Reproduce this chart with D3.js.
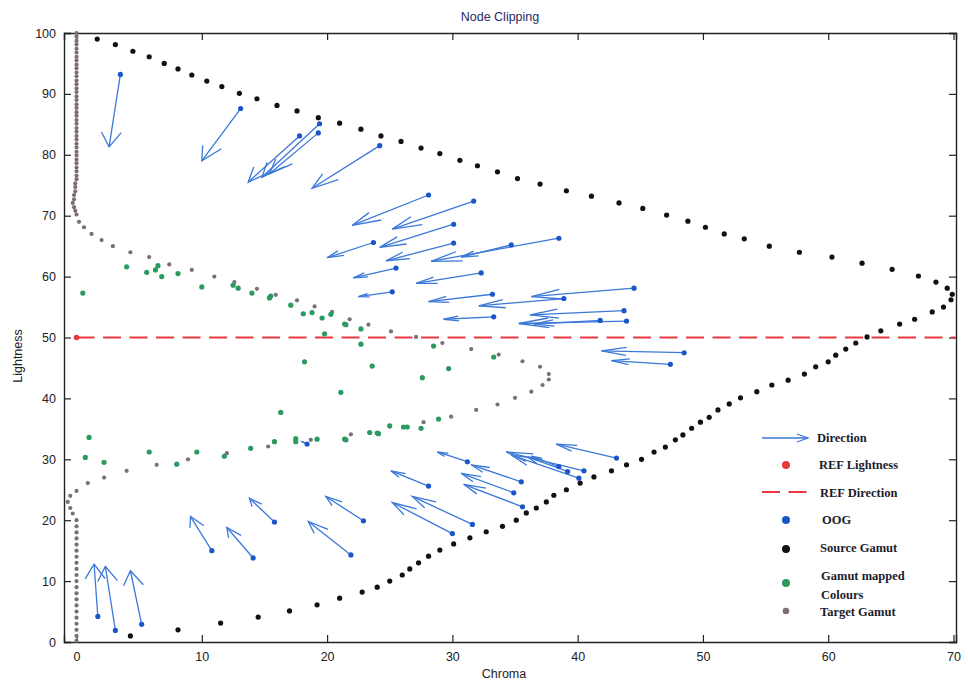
<!DOCTYPE html>
<html>
<head>
<meta charset="utf-8">
<script src="https://d3js.org/d3.v7.min.js"></script>
<style>
  body { margin: 0; background: #fff; }
  svg text { font-family: "Liberation Sans", Arial, sans-serif; }
  .leg { font-family: "Liberation Serif", "Times New Roman", serif; font-weight: bold; font-size: 12.5px; fill: #1c1c2c; }
</style>
</head>
<body>
<div id="chart"></div>
<script>
// ---- data ----
var xTicks = [0, 10, 20, 30, 40, 50, 60, 70];
var yTicks = [0, 10, 20, 30, 40, 50, 60, 70, 80, 90, 100];
var refL = 50;

// source gamut boundary
var srcC = [1.65, 3.1, 4.5, 5.8, 7.0, 8.1, 9.2, 10.4, 11.6, 13.0, 14.4, 16.0, 17.6, 19.3, 21.0, 22.7, 24.3, 25.9, 27.5, 29.0,
  30.6, 32.0, 33.6, 35.2, 37.0, 39.1, 41.1, 43.3, 45.2, 47.1, 48.8, 50.2, 51.7, 53.3, 55.3, 57.7, 60.3, 62.7, 65.1, 67.2,
  68.6, 69.5, 69.9, 69.8, 69.2, 68.3, 66.9, 65.7, 64.2, 63.1, 62.2, 61.4, 60.6, 60.0, 59.0, 58.1, 56.8, 55.5, 54.3, 53.0,
  52.1, 51.2, 50.5, 49.8, 49.1, 48.4, 47.8, 47.0, 46.1, 45.1, 43.9, 42.7, 41.3, 40.2, 39.1, 38.1, 37.5, 36.7, 35.9, 35.1,
  34.0, 32.7, 31.4, 30.1, 29.0, 28.1, 27.3, 26.6, 26.0, 25.0, 24.0, 22.8, 21.0, 19.2, 17.0, 14.5, 11.5, 8.1, 4.3];
var srcL = [99.0, 98.1, 97.0, 96.1, 95.0, 94.1, 93.1, 92.1, 91.2, 90.1, 89.2, 88.1, 87.2, 86.1, 85.2, 84.2, 83.1, 82.2, 81.1, 80.2,
  79.1, 78.2, 77.2, 76.1, 75.2, 74.1, 73.2, 72.1, 71.2, 70.1, 69.1, 68.1, 67.0, 66.2, 65.0, 64.0, 63.2, 62.2, 61.2, 60.1,
  59.1, 58.1, 57.1, 56.2, 55.0, 54.2, 53.0, 52.2, 51.1, 50.1, 49.1, 48.1, 47.1, 46.0, 45.2, 44.0, 43.0, 42.2, 41.1, 40.1,
  39.1, 38.1, 36.9, 36.1, 35.1, 34.0, 33.2, 32.0, 31.2, 30.0, 29.1, 28.1, 27.1, 26.1, 25.0, 24.1, 23.0, 22.0, 21.2, 20.0,
  19.0, 18.1, 17.1, 16.1, 15.1, 14.1, 13.0, 12.0, 11.0, 10.0, 9.0, 8.2, 7.2, 6.1, 5.1, 4.1, 3.1, 2.0, 1.0];

// target gamut boundary
var tgtC = [0, 0, 0, 0, 0, 0, 0, 0, 0, 0, 0, 0, 0, 0, 0, 0, 0, 0, 0, 0, 0, 0, 0, 0,
  0, 0, 0, 0, 0, 0, 0, 0, 0, 0, 0, 0, 0, 0, -0.1, -0.1, -0.1, -0.2, -0.2, -0.3, -0.2, -0.1, 0,
  0.2, 0.6, 1.2, 2.0, 2.9, 4.3, 5.8, 7.4, 9.2, 11.0, 12.6, 14.4, 15.9, 17.6, 19.0, 20.4, 21.8, 23.3,
  25.1, 27.1, 29.2, 31.5, 33.7, 35.6, 37.0, 37.7, 37.7, 37.2, 36.3, 35.0, 33.6, 31.9, 29.9, 27.7, 25.0,
  21.9, 18.7, 15.3, 12.0, 8.9, 6.4, 4.0, 2.2, 0.9, 0.0, -0.5, -0.7, -0.5, -0.3,
  0, 0, 0, 0, 0, 0, 0, 0, 0, 0, 0, 0, 0, 0, 0, 0, 0, 0, 0, 0, 0];
var tgtL = [100, 99.4, 98.7, 98.1, 97.4, 96.8, 96.1, 95.5, 94.8, 94.2, 93.5, 92.9, 92.2, 91.6, 90.9, 90.3, 89.6, 89, 88.3, 87.7, 87, 86.4, 85.7, 85.1,
  84.4, 83.8, 83.1, 82.5, 81.8, 81.2, 80.5, 79.9, 79.2, 78.6, 77.9, 77.3, 76.6, 76, 75.3, 74.7, 74, 73.4, 72.7, 72.1, 71.4, 70.8, 70.2,
  69.0, 68.1, 67.0, 66.0, 65.0, 64.0, 63.2, 62.0, 61.1, 60.0, 59.1, 58.0, 57.0, 56.1, 55.1, 54.2, 53.0, 52.1,
  51.0, 50.1, 49.1, 48.1, 47.2, 46.1, 45.2, 44.0, 43.1, 42.2, 41.1, 40.1, 39.0, 38.1, 37.0, 36.1, 35.4,
  34.1, 33.2, 32.1, 31.0, 30.0, 29.1, 28.1, 27.0, 26.1, 24.8, 24.0, 23.0, 22.0, 21.1,
  20, 19, 18, 17, 16, 15, 14, 13, 12, 11, 10, 9, 8, 7, 6, 5, 4, 3, 2, 1, 0.2];

// gamut mapped colours
var mapC = [0.5, 4.0, 5.6, 6.3, 6.5, 6.8, 8.1, 10.0, 12.5, 12.9, 14.0, 15.4, 15.5, 17.1, 18.1, 18.8, 19.6, 20.3, 21.4, 21.5,
  22.7, 19.8, 22.7, 18.2, 23.6, 21.1, 16.3, 1.0, 0.7, 5.8, 9.6, 11.8, 13.9, 15.8, 17.5, 17.5, 19.2, 21.4, 21.5, 23.4,
  24.0, 2.2, 8.0, 28.5, 27.6, 29.7, 33.3, 24.1, 25.0, 26.1, 26.4, 27.5, 28.9];
var mapL = [57.3, 61.6, 60.7, 61.1, 61.8, 60.0, 60.5, 58.3, 58.6, 58.1, 57.3, 56.5, 56.8, 55.3, 53.9, 54.1, 53.2, 53.8, 52.2, 52.1,
  51.4, 50.6, 48.9, 46.0, 45.3, 41.0, 37.7, 33.6, 30.3, 31.2, 31.2, 30.5, 31.8, 32.9, 33.4, 32.9, 33.3, 33.3, 33.2, 34.4,
  34.3, 29.5, 29.2, 48.6, 43.4, 44.9, 46.8, 34.2, 35.5, 35.3, 35.3, 35.1, 36.6];

// out-of-gamut colours (arrow start) and their mapped positions (arrow tip)
var oogC = [3.5, 13.1, 17.8, 19.4, 19.3, 24.2, 28.1, 31.7, 30.1, 23.7, 30.1, 38.5, 34.7, 25.5, 32.3, 25.2, 33.2, 44.5, 38.9, 33.3,
  43.7, 43.9, 41.8, 48.5, 47.4, 1.7, 3.1, 5.2, 10.8, 14.1, 15.8, 21.9, 22.9, 30.0, 31.6, 28.1, 35.6, 34.9, 35.5, 31.2,
  43.1, 40.5, 40.1, 39.2, 38.5, 18.4];
var oogL = [93.2, 87.6, 83.1, 85.1, 83.6, 81.5, 73.4, 72.4, 68.6, 65.6, 65.5, 66.3, 65.2, 61.4, 60.6, 57.5, 57.1, 58.1, 56.4, 53.4,
  54.4, 52.7, 52.8, 47.5, 45.6, 4.2, 1.9, 2.9, 15.0, 13.8, 19.7, 14.3, 19.9, 17.8, 19.3, 25.6, 22.2, 24.5, 26.3, 29.6,
  30.2, 28.1, 26.9, 28.0, 28.8, 32.5];
var endC = [2.6, 10.0, 13.7, 14.8, 15.4, 18.8, 22.0, 25.2, 24.2, 20.0, 24.7, 28.3, 30.7, 22.1, 27.1, 22.5, 28.1, 36.3, 32.1, 29.3,
  36.2, 35.3, 36.5, 41.9, 42.7, 1.4, 2.3, 4.3, 9.1, 12.0, 13.8, 18.5, 19.9, 25.2, 26.8, 25.1, 30.9, 30.7, 31.5, 28.8,
  38.3, 34.3, 34.7, 36.0, 36.3, 18.0];
var endL = [81.3, 79.0, 75.5, 76.3, 76.9, 74.5, 68.4, 67.8, 64.8, 63.1, 62.6, 62.5, 63.2, 59.8, 58.9, 56.7, 55.9, 56.7, 55.2, 53.0,
  53.7, 52.3, 52.2, 47.8, 46.2, 12.8, 12.4, 11.7, 20.6, 18.8, 23.6, 19.8, 23.9, 22.9, 23.9, 28.1, 25.9, 27.7, 29.1, 31.2,
  32.5, 31.2, 30.7, 30.4, 30.5, 32.9];

var legendLabels = ["Direction", "REF Lightness", "REF Direction", "OOG", "Source Gamut", "Gamut mapped", "Target Gamut"];

// ---- drawing ----
var W = 968, H = 684;
var blue = "#3b78d8", blueDot = "#1b56c9", red = "#e8383f", black = "#111111", green = "#2b9a60", gray = "#7b6e78";

var svg = d3.select("#chart").append("svg").attr("width", W).attr("height", H);

var x = d3.scaleLinear().domain([-1, 70.2]).range([64, 956]);
var y = d3.scaleLinear().domain([0, 100]).range([642, 33]);

// axes: MATLAB style box with inward ticks
var tickLen = 7;
svg.append("g").attr("transform", "translate(0,642)")
  .call(d3.axisBottom(x).tickValues(xTicks).tickSize(-tickLen).tickPadding(10).tickFormat(d3.format("d")));
svg.append("g").attr("transform", "translate(0,33)")
  .call(d3.axisTop(x).tickValues(xTicks).tickSize(-tickLen).tickFormat(""));
svg.append("g").attr("transform", "translate(64,0)")
  .call(d3.axisLeft(y).tickValues(yTicks).tickSize(-tickLen).tickPadding(8).tickFormat(d3.format("d")));
svg.append("g").attr("transform", "translate(956,0)")
  .call(d3.axisRight(y).tickValues(yTicks).tickSize(-tickLen).tickFormat(""));
svg.selectAll(".domain").attr("stroke", "#222").attr("stroke-width", 1.4);
svg.selectAll(".tick line").attr("stroke", "#222").attr("stroke-width", 1.2);
svg.selectAll(".tick text").attr("font-size", 12.5).attr("fill", "#222")
  .attr("font-family", "Liberation Sans, Arial, sans-serif");
// hide top/right tick at the box corners
svg.selectAll(".tick").filter(function(d) { return d === 0 && this.parentNode.getAttribute("transform") === "translate(64,0)"; });

svg.append("text").attr("x", 500).attr("y", 21).attr("text-anchor", "middle")
  .attr("font-size", 12.5).attr("fill", "#2a2a66").text("Node Clipping");
svg.append("text").attr("x", 504).attr("y", 678).attr("text-anchor", "middle")
  .attr("font-size", 12.5).attr("fill", "#222").text("Chroma");
svg.append("text").attr("transform", "translate(22,356) rotate(-90)").attr("text-anchor", "middle")
  .attr("font-size", 12.5).attr("fill", "#222").text("Lightness");

var plot = svg.append("g");

// REF direction line
plot.append("line").attr("x1", x(0)).attr("x2", x(70.2)).attr("y1", y(refL)).attr("y2", y(refL))
  .attr("stroke", red).attr("stroke-width", 2).attr("stroke-dasharray", "18,8.5");

function dots(cs, ls, r, col) {
  plot.append("g").selectAll("circle").data(cs).join("circle")
    .attr("cx", function(d) { return x(d); })
    .attr("cy", function(d, i) { return y(ls[i]); })
    .attr("r", r).attr("fill", col);
}
dots(tgtC, tgtL, 2.1, gray);
dots(srcC, srcL, 2.6, black);
dots(mapC, mapL, 2.6, green);

// quiver arrows (head computed in data units, as MATLAB does)
var arrows = plot.append("g").attr("fill", "none").attr("stroke", blue).attr("stroke-width", 1.3);
oogC.forEach(function(c0, i) {
  var l0 = oogL[i], c1 = endC[i], l1 = endL[i];
  var u = c1 - c0, v = l1 - l0;
  var len = Math.sqrt(u * u + v * v);
  var a = Math.min(0.3, 2.4 / len), b = 0.33;
  arrows.append("line").attr("x1", x(c0)).attr("y1", y(l0)).attr("x2", x(c1)).attr("y2", y(l1));
  var p = d3.path();
  p.moveTo(x(c1 - a * (u + b * v)), y(l1 - a * (v - b * u)));
  p.lineTo(x(c1), y(l1));
  p.lineTo(x(c1 - a * (u - b * v)), y(l1 - a * (v + b * u)));
  arrows.append("path").attr("d", p.toString());
});
dots(oogC, oogL, 2.6, blueDot);

// reference lightness point
plot.append("circle").attr("cx", x(0)).attr("cy", y(refL)).attr("r", 2.8).attr("fill", red);

// legend
var lg = svg.append("g");
var ly = [438, 465, 492, 520, 549, 583, 611];
lg.append("line").attr("x1", 762).attr("x2", 808).attr("y1", ly[0]).attr("y2", ly[0]).attr("stroke", blue).attr("stroke-width", 1.3);
lg.append("path").attr("d", "M797,434 L808,438 L797,442").attr("fill", "none").attr("stroke", blue).attr("stroke-width", 1.3);
lg.append("circle").attr("cx", 786).attr("cy", ly[1]).attr("r", 4).attr("fill", red);
lg.append("line").attr("x1", 762).attr("x2", 808).attr("y1", ly[2]).attr("y2", ly[2]).attr("stroke", red)
  .attr("stroke-width", 1.8).attr("stroke-dasharray", "18,8.5");
lg.append("circle").attr("cx", 786).attr("cy", ly[3]).attr("r", 4).attr("fill", blueDot);
lg.append("circle").attr("cx", 786).attr("cy", ly[4]).attr("r", 4).attr("fill", black);
lg.append("circle").attr("cx", 786).attr("cy", ly[5]).attr("r", 4).attr("fill", green);
lg.append("circle").attr("cx", 786).attr("cy", ly[6]).attr("r", 3.3).attr("fill", gray);

var lx = [817, 819, 820, 822, 820, 821, 820];
var lyText = [442, 469, 497, 524, 552, 580, 616];
legendLabels.forEach(function(t, i) {
  lg.append("text").attr("class", "leg").attr("x", lx[i]).attr("y", lyText[i]).text(t);
});
lg.append("text").attr("class", "leg").attr("x", 821).attr("y", 599).text("Colours");
</script>
</body>
</html>
